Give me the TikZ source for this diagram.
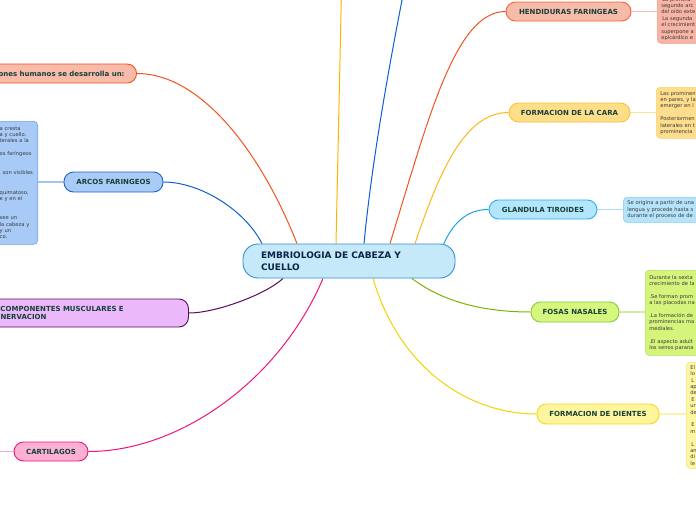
\documentclass[tikz,border=0pt]{standalone}
\usepackage{fontspec}
\setmainfont{DejaVu Sans}
\usetikzlibrary{calc,backgrounds}
\definecolor{cfill}{HTML}{C6E9FA}
\definecolor{cborder}{HTML}{2F8FD0}
\definecolor{ctext}{HTML}{0B2447}
\definecolor{brtext}{HTML}{16403A}
\definecolor{boxtext}{HTML}{3A3A3A}
\definecolor{hfill}{HTML}{F8BBA9}\definecolor{hdraw}{HTML}{F4633A}\definecolor{hconn}{HTML}{F4511E}
\definecolor{hbfill}{HTML}{F8B4A4}\definecolor{hbdraw}{HTML}{F39A86}\definecolor{hlconn}{HTML}{F9C2B3}
\definecolor{yfill}{HTML}{FFDE8A}\definecolor{ydraw}{HTML}{FBC02D}\definecolor{yconn}{HTML}{FDB813}
\definecolor{ybfill}{HTML}{FEDD8C}\definecolor{ybdraw}{HTML}{FCD36A}\definecolor{ylconn}{HTML}{FEE3A0}
\definecolor{tfill}{HTML}{B3E5FC}\definecolor{tdraw}{HTML}{29B0EE}\definecolor{tconn}{HTML}{1DA1E6}
\definecolor{tbfill}{HTML}{B5E3FA}\definecolor{tbdraw}{HTML}{82CDF3}\definecolor{tlconn}{HTML}{B0DDF5}
\definecolor{gfill}{HTML}{D6F77E}\definecolor{gdraw}{HTML}{8CC63F}\definecolor{gconn}{HTML}{7CB300}
\definecolor{gbfill}{HTML}{D4F47C}\definecolor{gbdraw}{HTML}{B7E25A}\definecolor{glconn}{HTML}{D3EDA0}
\definecolor{dfill}{HTML}{FFF59D}\definecolor{ddraw}{HTML}{F2D91C}\definecolor{dconn}{HTML}{EFD500}
\definecolor{dbfill}{HTML}{FFF6A3}\definecolor{dbdraw}{HTML}{F5E57A}\definecolor{dlconn}{HTML}{FCF1A8}
\definecolor{afill}{HTML}{A8CCF6}\definecolor{adraw}{HTML}{1E63C9}\definecolor{aconn}{HTML}{0B5ED7}
\definecolor{abfill}{HTML}{A7CBF6}\definecolor{abdraw}{HTML}{6FA2EA}\definecolor{alconn}{HTML}{A3C6F0}
\definecolor{pfill}{HTML}{EBB9F9}\definecolor{pdraw}{HTML}{5A0A5A}
\definecolor{kfill}{HTML}{FDB0D3}\definecolor{kdraw}{HTML}{E8157A}\definecolor{kconn}{HTML}{F0157A}\definecolor{klconn}{HTML}{F7A8CC}
\definecolor{topyel}{HTML}{FFB300}
\tikzset{
  branch/.style={draw, line width=0.9pt, rounded corners=9.5pt, font=\fontsize{7}{8.5}\selectfont\bfseries, text=brtext, inner sep=0pt, align=center},
  tbox/.style={draw, line width=0.6pt, rounded corners=4pt, font=\fontsize{5.2}{6.4}\selectfont, text=boxtext, align=left, inner xsep=4pt, inner ysep=0pt},
  conn/.style={line width=1pt},
  lconn/.style={line width=1.4pt}
}
\begin{document}
\begin{tikzpicture}[x=1pt,y=-1pt]
\useasboundingbox (0,0) rectangle (696,520);
\clip (0,0) rectangle (696,520);

% central
\node[draw=cborder, fill=cfill, line width=0.9pt, rounded corners=15pt, minimum width=212pt, minimum height=34pt, text width=176pt, inner xsep=18pt, inner ysep=0pt, align=left, font=\fontsize{9}{12}\selectfont\bfseries, text=ctext] (c) at (349,261) {EMBRIOLOGIA DE CABEZA Y\\CUELLO};

% branches
\node[branch, fill=hfill, draw=hdraw, minimum width=125pt, minimum height=19pt] (hend) at (568.5,11.5) {HENDIDURAS FARINGEAS};
\node[branch, fill=yfill, draw=ydraw, minimum width=121pt, minimum height=19pt] (cara) at (569.5,112.5) {FORMACION DE LA CARA};
\node[branch, fill=tfill, draw=tdraw, minimum width=108pt, minimum height=19pt] (tiro) at (543,209.5) {GLANDULA TIROIDES};
\node[branch, fill=gfill, draw=gdraw, minimum width=88pt, minimum height=20pt] (fosas) at (575,312) {FOSAS NASALES};
\node[branch, fill=dfill, draw=ddraw, minimum width=122pt, minimum height=20pt] (dientes) at (598,414) {FORMACION DE DIENTES};
\node[branch, fill=afill, draw=adraw, minimum width=99pt, minimum height=20pt] (arcos) at (113.5,182) {ARCOS FARINGEOS};
\node[branch, fill=kfill, draw=kdraw, minimum width=74pt, minimum height=19pt] (cart) at (51,451.5) {CARTILAGOS};
\node[branch, fill=hfill, draw=hconn, anchor=east, inner xsep=12pt, minimum height=19pt] (topor) at (137,73.5) {ones humanos se desarrolla un:};
\node[branch, fill=pfill, draw=pdraw, anchor=west, text width=176pt, inner xsep=12pt, minimum height=28pt, align=left] (comp) at (-12,313) {COMPONENTES MUSCULARES E\\\hspace*{-2.5pt}INERVACION};

% text boxes
\node[tbox, fill=hbfill, draw=hbdraw, anchor=north west, text width=80pt, minimum height=49pt] (hbox) at (657,-6) {\hspace*{1pt}La primera\\segundo arc\\del oído exte\\\hspace*{1pt}La segunda\\el crecimient\\superpone a\\epicárdico e};
\node[tbox, fill=ybfill, draw=ybdraw, anchor=north west, text width=80pt, minimum height=51pt] (cbox) at (656,87) {Las prominen\\en pares, y la\\emerger en l\\[6.4pt]Posteriormen\\laterales en t\\prominencia};
\node[tbox, fill=tbfill, draw=tbdraw, anchor=north west, text width=100pt, minimum height=25pt] (tbx) at (623,197) {Se origina a partir de una\\lengua y procede hasta s\\durante el proceso de de};
\node[tbox, fill=gbfill, draw=gbdraw, anchor=north west, text width=80pt, minimum height=85pt] (fbox) at (645,270) {Durante la sexta\\crecimiento de la\\[6.4pt].Se forman prom\\a las placodas na\\[6.4pt].La formación de\\prominencias ma\\mediales.\\[6.4pt].El aspecto adult\\los senos parana};
\node[tbox, fill=dbfill, draw=dbdraw, anchor=north west, text width=40pt, minimum height=106pt] (dbox) at (686,362) {El\\lo\\\hspace*{1pt}L\\ap\\de\\\hspace*{1pt}E\\ur\\de\\[6.4pt]\hspace*{1pt}E\\m\\[6.4pt]\hspace*{1pt}L\\an\\di\\le};
\node[tbox, fill=abfill, draw=abdraw, anchor=north east, text width=34pt, minimum height=123pt] (abox) at (38,121) {a cresta\\a y cuello.\\terales a la\\[6.4pt]os faríngeos\\[12.8pt]\hspace*{3pt}son visibles\\[12.8pt]quimatoso,\\e y en el\\[12.8pt]see un\\la cabeza y\\y un\\co.};

\coordinate (topY) at (341.5,-10);
\coordinate (topB) at (406,-20);
\coordinate (cartext) at (-10,451.5);

\begin{scope}[on background layer]
% connectors from central
\draw[conn, topyel] ($(c.north)+(-13,0)$) -- (topY);
\draw[conn, aconn] ($(c.north)+(15,0)$) .. controls (372,160) and (390,60) .. (topB);
\draw[conn, hconn] ($(c.north)+(41,0)$) .. controls (428,120) and (455,11.5) .. (hend.west);
\draw[conn, yconn] ($(c.north)+(66,0)$) .. controls (440,170) and (465,112.5) .. (cara.west);
\draw[conn, tconn] ($(c.north)+(94,2)$) .. controls (452,225) and (465,209.5) .. (tiro.west);
\draw[conn, hconn] ($(c.north)+(-52,0)$) .. controls (260,150) and (200,73.5) .. (topor.east);
\draw[conn, aconn] ($(c.north)+(-87,0)$) .. controls (245,210) and (200,182) .. (arcos.east);
\draw[conn, pdraw] ($(c.south)+(-66,0)$) .. controls (265,295) and (215,313) .. (comp.east);
\draw[conn, kconn] ($(c.south)+(-26,0)$) .. controls (280,380) and (180,451.5) .. (cart.east);
\draw[conn, dconn] ($(c.south)+(24,0)$) .. controls (400,370) and (470,414) .. (dientes.west);
\draw[conn, gconn] ($(c.south)+(63,0)$) .. controls (440,300) and (480,312) .. (fosas.west);
% connectors to text boxes
\draw[lconn, hlconn] (hend.east) -- (hend.east -| hbox.west);
\draw[lconn, ylconn] (cara.east) -- (cara.east -| cbox.west);
\draw[lconn, tlconn] (tiro.east) -- (tiro.east -| tbx.west);
\draw[lconn, glconn] (fosas.east) -- (fosas.east -| fbox.west);
\draw[lconn, dlconn] (dientes.east) -- (dientes.east -| dbox.west);
\draw[lconn, alconn] (arcos.west) -- (arcos.west -| abox.east);
\draw[lconn, klconn] (cart.west) -- (cartext);
\end{scope}
\end{tikzpicture}
\end{document}
